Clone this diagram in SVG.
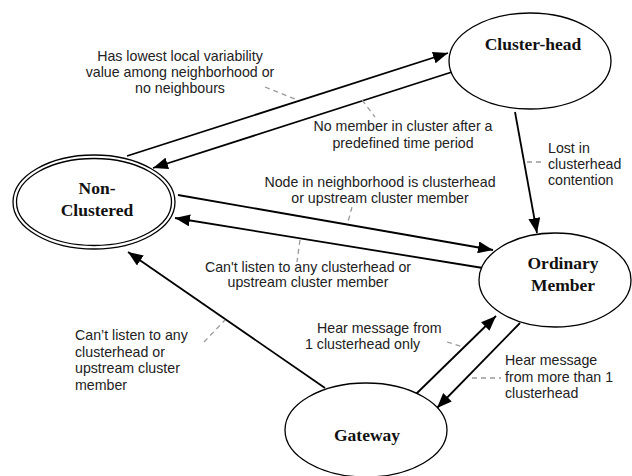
<svg xmlns="http://www.w3.org/2000/svg" width="632" height="476" viewBox="0 0 632 476">
<defs>
<marker id="ah" markerUnits="userSpaceOnUse" markerWidth="16" markerHeight="12" refX="15" refY="6" orient="auto">
<path d="M0,0 L15,6 L0,12 Z" fill="#000"/>
</marker>
<style>
.node{fill:#fff;stroke:#000;stroke-width:1.3}
.nl{font-family:"Liberation Serif","Times New Roman",serif;font-weight:bold;font-size:17.5px;fill:#111;text-anchor:middle}
.edge{stroke:#000;stroke-width:1.8;fill:none}
.arr{marker-end:url(#ah)}
.lead{stroke:#999;stroke-width:1.3;stroke-dasharray:5,4;fill:none}
.lbl{font-family:"Liberation Sans",Arial,sans-serif;font-size:14.2px;fill:#222}
.c{text-anchor:middle}
</style>
</defs>
<rect width="632" height="476" fill="#fff"/>
<g id="connectors">
<line class="edge arr" x1="127" y1="156" x2="448" y2="53"/>
<line class="edge arr" x1="452" y1="72" x2="153" y2="168"/>
<line class="edge arr" x1="515" y1="112" x2="537" y2="233"/>
<line class="edge arr" x1="178" y1="195" x2="493" y2="250"/>
<line class="edge arr" x1="483" y1="268" x2="175" y2="218"/>
<line class="edge arr" x1="325" y1="388" x2="128" y2="252"/>
<line class="edge arr" x1="415" y1="395" x2="496" y2="316"/>
<line class="edge arr" x1="520" y1="323" x2="437" y2="408"/>
</g>
<g id="node-nonclustered">
<ellipse class="node" cx="94" cy="202" rx="81" ry="47"/>
<ellipse class="node" cx="94" cy="202" rx="77.5" ry="43.5"/>
<text class="nl" x="97" y="194">Non-</text>
<text class="nl" x="97" y="216">Clustered</text>
</g>
<g id="node-clusterhead">
<ellipse class="node" cx="530" cy="61" rx="81" ry="48"/>
<text class="nl" x="533" y="50">Cluster-head</text>
</g>
<g id="node-ordinary">
<ellipse class="node" cx="555" cy="280" rx="76" ry="47"/>
<text class="nl" x="563" y="269">Ordinary</text>
<text class="nl" x="563" y="291">Member</text>
</g>
<g id="node-gateway">
<ellipse class="node" cx="366" cy="430" rx="81" ry="47"/>
<text class="nl" x="367" y="441">Gateway</text>
</g>
<g id="labels">
<line class="lead" x1="265" y1="87" x2="295" y2="99"/>
<text class="lbl c" x="180" y="61">Has lowest local variability</text>
<text class="lbl c" x="180" y="77">value among neighborhood or</text>
<text class="lbl c" x="180" y="93">no neighbours</text>
<line class="lead" x1="362" y1="100" x2="375" y2="117"/>
<text class="lbl c" x="403" y="131">No member in cluster after a</text>
<text class="lbl c" x="403" y="148">predefined time period</text>
<line class="lead" x1="527" y1="162" x2="544" y2="162"/>
<text class="lbl" x="548" y="153">Lost in</text>
<text class="lbl" x="548" y="169">clusterhead</text>
<text class="lbl" x="548" y="185">contention</text>
<line class="lead" x1="352" y1="207" x2="348" y2="222"/>
<text class="lbl c" x="380" y="187">Node in neighborhood is clusterhead</text>
<text class="lbl c" x="380" y="203">or upstream cluster member</text>
<line class="lead" x1="300" y1="240" x2="297" y2="262"/>
<text class="lbl c" x="308" y="272">Can't listen to any clusterhead or</text>
<text class="lbl c" x="308" y="287">upstream cluster member</text>
<line class="lead" x1="204" y1="342" x2="225" y2="320"/>
<text class="lbl" x="75" y="340">Can’t listen to any</text>
<text class="lbl" x="75" y="357">clusterhead or</text>
<text class="lbl" x="75" y="373">upstream cluster</text>
<text class="lbl" x="75" y="390">member</text>
<line class="lead" x1="447" y1="342" x2="463" y2="347"/>
<text class="lbl" x="317" y="333">Hear message from</text>
<text class="lbl" x="305" y="349">1 clusterhead only</text>
<line class="lead" x1="472" y1="378" x2="501" y2="378"/>
<text class="lbl" x="505" y="365">Hear message</text>
<text class="lbl" x="505" y="382">from more than 1</text>
<text class="lbl" x="505" y="398">clusterhead</text>
</g>
</svg>
